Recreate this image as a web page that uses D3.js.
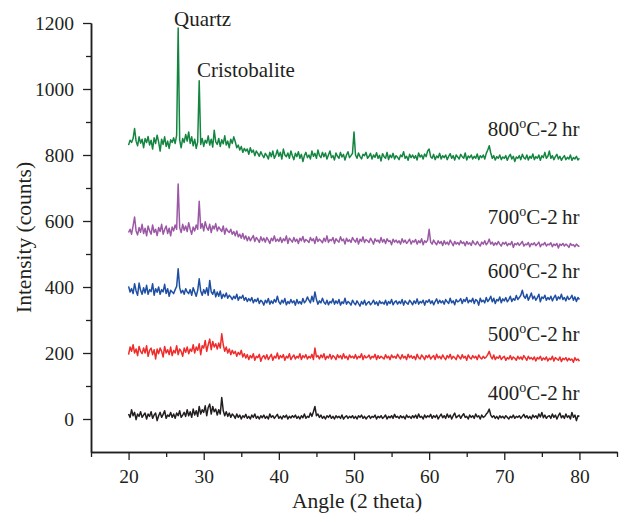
<!DOCTYPE html>
<html>
<head>
<meta charset="utf-8">
<script src="https://cdn.jsdelivr.net/npm/d3@7"></script>
<style>
    body { margin: 0; background: #fff; }
    svg text { font-family: "Liberation Serif", "DejaVu Serif", serif; fill: #231f20; }
</style>
</head>
<body>
<div id="chart"></div>
<script>
/*
    XRD patterns, 20..80 deg 2theta, step 0.2
*/

var angleStart = 20, angleStep = 0.2;

var xTicks = [20, 30, 40, 50, 60, 70, 80];
var xMinorTicks = [15, 25, 35, 45, 55, 65, 75, 85];
var yTicks = [0, 200, 400, 600, 800, 1000, 1200];
var yMinorTicks = [100, 300, 500, 700, 900, 1100];

var seriesNames = ["400", "500", "600", "700", "800"];
var seriesColors = ["#231f20", "#ee2c2c", "#1f4fa3", "#9b59a5", "#138540"];
var labelLevel = [58, 236, 427, 591, 857];

var peakNames = ["Quartz", "Cristobalite"];
var peakLabelAngles = [26.05, 29.1];
var peakLevels = [1191, 1036];

var s400 = [
    15, 5, 28, 10, 20, -2, 15, 8, 22, 5,
    12, 18, 0, 15, 8, 22, 2, 12, 18, -5,
    10, 20, 5, 14, 25, 2, 12, 8, 20, 5,
    15, 2, 18, 10, 25, 5, 12, 20, 8, 28,
    10, 22, 5, 30, 12, 25, 8, 38, 15, 28,
    20, 40, 10, 35, 45, 15, 38, 22, 30, 12,
    28, 15, 65, 25, 10, 22, 8, 18, 5, 15,
    10, 2, 15, 5, 12, 0, 10, 5, 14, 2,
    8, 0, 12, 5, 15, 2, 8, 0, 10, 4,
    12, 2, 8, 0, 15, 5, 10, 2, 8, 14,
    2, 8, 0, 10, 5, 12, 0, 8, 3, 10,
    5, 12, 2, 8, 0, 10, 4, 15, 2, 8,
    5, 18, 8, 22, 38, 10, 15, 5, 12, 2,
    8, 0, 10, 5, 12, 2, 8, 0, 10, 4,
    8, 2, 12, 0, 6, 10, 2, 8, 4, 10,
    2, 8, 0, 10, 5, 12, 2, 8, 0, 6,
    10, 2, 8, 5, 12, 0, 8, 4, 10, 2,
    6, 12, 0, 8, 4, 10, 2, 14, 5, 8,
    2, 10, 4, 8, 0, 12, 5, 8, 2, 10,
    4, 12, 2, 15, 5, 8, 0, 12, 4, 10,
    6, 14, 2, 10, 5, 12, 0, 8, 15, 4,
    10, 2, 15, 5, 12, 0, 10, 18, 4, 8,
    12, 2, 10, 16, 5, 8, 0, 12, 5, 10,
    2, 15, 6, 10, 0, 12, 5, 8, 15, 20,
    30, 12, 5, 10, 2, 8, 0, 10, 4, 8,
    2, 10, 5, 0, 8, 4, 12, 2, 8, 5,
    10, 2, 8, 14, 4, 10, 2, 8, 0, 12,
    5, 10, 2, 15, 6, 20, 4, 12, 2, 8,
    10, 2, 15, 5, 12, 0, 10, 18, 4, 10,
    2, 15, 5, 10, 0, 20, 5, 12, -5, 10,
    8
];

var s500 = [
    195, 218, 205, 225, 200, 212, 192, 220, 205, 198,
    215, 200, 222, 190, 208, 215, 195, 210, 182, 212,
    198, 215, 205, 188, 220, 200, 210, 195, 218, 192,
    208, 200, 222, 195, 212, 205, 190, 215, 202, 218,
    198, 212, 205, 225, 200, 218, 208, 228, 195, 222,
    215, 238, 205, 225, 242, 210, 235, 218, 228, 212,
    230, 215, 258, 225, 205, 218, 200, 212, 195, 208,
    198, 205, 190, 202, 195, 208, 188, 198, 185, 195,
    180, 192, 185, 198, 178, 190, 186, 196, 175, 188,
    192, 182, 195, 180, 188, 196, 178, 190, 185, 200,
    182, 192, 186, 195, 178, 190, 185, 198, 180, 188,
    194, 182, 190, 185, 198, 180, 192, 186, 195, 182,
    190, 185, 196, 180, 215, 188, 192, 182, 194, 186,
    198, 180, 190, 185, 196, 182, 192, 188, 180, 195,
    186, 192, 182, 198, 185, 190, 180, 194, 186, 190,
    184, 195, 182, 190, 186, 198, 180, 192, 185, 188,
    194, 182, 190, 186, 196, 180, 192, 184, 190, 186,
    182, 195, 185, 190, 180, 194, 186, 190, 184, 196,
    188, 182, 195, 185, 190, 180, 196, 186, 192, 184,
    190, 180, 196, 186, 182, 194, 188, 180, 192, 186,
    194, 182, 188, 192, 180, 196, 185, 190, 182, 194,
    186, 180, 192, 185, 196, 182, 190, 186, 180, 194,
    188, 182, 195, 185, 190, 178, 194, 186, 182, 192,
    185, 190, 180, 194, 186, 182, 190, 184, 188, 195,
    205, 190, 182, 194, 180, 188, 184, 192, 180, 186,
    190, 178, 186, 182, 192, 180, 188, 184, 178, 190,
    182, 188, 180, 192, 185, 178, 190, 182, 186, 180,
    188, 176, 186, 182, 190, 178, 185, 180, 188, 176,
    184, 180, 190, 176, 186, 182, 178, 188, 174, 184,
    180, 186, 176, 184, 178, 182, 172, 186, 178, 182,
    175
];

var s600 = [
    402, 385, 395, 380, 410, 388, 375, 412, 390, 378,
    398, 382, 405, 378, 392, 386, 410, 375, 395, 384,
    400, 378, 392, 385, 408, 380, 395, 372, 390, 385,
    380, 392, 402, 455, 398, 382, 390, 378, 395, 385,
    380, 392, 375, 398, 385, 372, 390, 425, 388, 375,
    392, 380, 398, 375, 420, 385, 378, 392, 370, 385,
    372, 388, 365, 378, 370, 382, 366, 375, 370, 362,
    372, 365, 378, 360, 370, 366, 375, 360, 368, 356,
    365, 358, 368, 352, 362, 356, 366, 350, 360, 355,
    345, 360, 352, 365, 348, 358, 350, 362, 354, 372,
    355, 348, 360, 352, 365, 346, 356, 350, 362, 352,
    358, 345, 362, 350, 356, 348, 365, 352, 358, 370,
    360, 352, 372, 356, 385, 362, 348, 358, 352, 366,
    354, 348, 360, 346, 356, 352, 364, 348, 358, 350,
    362, 345, 355, 350, 366, 348, 356, 352, 345, 360,
    352, 346, 358, 350, 342, 356, 348, 360, 345, 352,
    356, 346, 352, 360, 348, 355, 344, 358, 350, 354,
    348, 360, 345, 356, 350, 362, 346, 354, 358, 348,
    356, 350, 362, 345, 358, 352, 348, 360, 354, 346,
    358, 350, 364, 348, 356, 352, 360, 345, 358, 354,
    362, 350, 358, 346, 356, 364, 350, 360, 352, 358,
    348, 362, 355, 350, 366, 352, 358, 346, 362, 355,
    358, 365, 350, 362, 356, 368, 352, 360, 355, 366,
    350, 362, 358, 345, 366, 355, 360, 352, 368, 356,
    362, 372, 355, 366, 350, 362, 358, 370, 352, 364,
    358, 368, 355, 362, 372, 356, 365, 360, 374, 362,
    368, 375, 390, 372, 366, 378, 360, 370, 382, 364,
    372, 360, 368, 378, 355, 370, 365, 375, 360, 368,
    362, 372, 358, 368, 375, 360, 370, 364, 378, 362,
    368, 358, 372, 362, 366, 375, 360, 370, 356, 368,
    362
];

var s700 = [
    565, 575, 560, 585, 612, 570, 558, 580, 566, 590,
    562, 578, 555, 585, 570, 560, 588, 565, 575, 556,
    580, 568, 590, 560, 574, 585, 562, 578, 555, 582,
    570, 588, 575, 712, 580, 565, 590, 572, 585, 568,
    595, 575, 560, 582, 570, 588, 575, 660, 578, 592,
    570, 598, 580, 572, 590, 565, 585, 576, 592, 570,
    582, 575, 568, 585, 560, 578, 570, 565, 575, 560,
    568, 555, 570, 552, 560, 548, 562, 545, 555, 540,
    552, 540, 548, 556, 538, 550, 544, 535, 552, 540,
    548, 536, 550, 542, 532, 548, 540, 555, 538, 545,
    538, 550, 535, 546, 540, 555, 532, 548, 542, 536,
    550, 538, 545, 532, 548, 540, 553, 536, 544, 540,
    535, 550, 540, 546, 532, 552, 538, 545, 540, 534,
    548, 538, 555, 535, 544, 540, 550, 532, 546, 540,
    536, 552, 540, 545, 530, 548, 538, 543, 535, 550,
    542, 536, 548, 530, 545, 538, 552, 535, 544, 540,
    535, 548, 540, 530, 546, 538, 542, 534, 550, 536,
    544, 532, 546, 538, 540, 528, 545, 536, 542, 534,
    540, 530, 546, 535, 542, 532, 538, 545, 530, 540,
    536, 544, 530, 540, 534, 546, 528, 540, 535, 542,
    575, 536, 530, 542, 534, 528, 540, 532, 538, 526,
    540, 530, 536, 528, 542, 534, 525, 538, 530, 535,
    528, 540, 532, 536, 525, 538, 530, 534, 526, 540,
    532, 528, 538, 530, 524, 536, 530, 540, 528, 534,
    545, 530, 536, 526, 534, 528, 538, 530, 524, 535,
    530, 536, 525, 532, 528, 538, 520, 532, 528, 534,
    526, 532, 538, 524, 530, 528, 535, 522, 532, 528,
    534, 525, 530, 536, 522, 530, 528, 535, 524, 530,
    528, 534, 522, 530, 526, 532, 518, 530, 526, 532,
    524, 530, 526, 520, 532, 526, 528, 522, 530, 525,
    522
];

var s800 = [
    830, 845, 838, 850, 880, 842, 828, 855, 836, 848,
    822, 850, 838, 856, 830, 845, 818, 852, 835, 860,
    840, 812, 848, 832, 855, 826, 842, 820, 846, 838,
    852, 835, 860, 1185, 845, 822, 850, 838, 862, 842,
    870, 835, 855, 828, 848, 820, 840, 1025, 832, 850,
    826, 845, 836, 858, 830, 848, 824, 875, 840, 832,
    850, 826, 846, 834, 858, 830, 842, 822, 848, 835,
    855, 840, 822, 830, 815, 826, 808, 820, 812, 818,
    802, 822, 808, 815, 798, 812, 805, 796, 810, 800,
    792, 805, 798, 788, 808, 795, 812, 790, 800, 815,
    796, 808, 788, 818, 800, 795, 806, 790, 812, 798,
    786, 805, 795, 810, 790, 802, 780, 798, 808, 792,
    800, 788, 812, 796, 805, 790, 815, 798, 792, 808,
    795, 806, 788, 800, 812, 792, 798, 785, 806, 796,
    790, 808, 794, 802, 785, 800, 810, 792, 798, 805,
    870, 800, 790, 806, 795, 788, 802, 798, 808, 790,
    796, 805, 788, 800, 793, 807, 790, 799, 782, 804,
    795, 790, 808, 786, 800, 792, 805, 788, 798, 793,
    786, 800, 795, 810, 790, 796, 784, 802, 792, 800,
    790, 798, 785, 806, 794, 800, 788, 803, 795, 812,
    818, 795, 790, 802, 786, 797, 792, 805, 788, 798,
    792, 800, 786, 796, 804, 790, 798, 785, 800, 794,
    788, 802, 795, 790, 806, 785, 797, 792, 800, 788,
    796, 790, 803, 786, 798, 792, 800, 788, 805, 815,
    828, 806, 790, 798, 785, 795, 790, 800, 786, 794,
    790, 798, 784, 795, 802, 788, 796, 780, 794, 790,
    798, 786, 802, 792, 788, 800, 785, 796, 790, 803,
    786, 795, 790, 800, 784, 798, 792, 808, 790, 796,
    812, 790, 798, 786, 795, 802, 788, 796, 784, 792,
    798, 786, 793, 788, 800, 784, 792, 788, 796, 785,
    790
];

var series = [s400, s500, s600, s700, s800];

var width = 619, height = 516;
var plot = {left: 91, right: 617, top: 23, bottom: 452};
var labelFont = 21, tickFont = 19.5;

var svg = d3.select("#chart").append("svg")
    .attr("width", width)
    .attr("height", height);

var x = d3.scaleLinear().domain([15, 85]).range([plot.left, plot.right]);
var y = d3.scaleLinear().domain([-100, 1200]).range([plot.bottom, plot.top]);

// axes
var xAxis = svg.append("g")
    .attr("transform", "translate(0," + plot.bottom + ")")
    .call(d3.axisBottom(x).tickValues(xTicks).tickSize(8).tickSizeOuter(0).tickPadding(9));
var xMinor = svg.append("g")
    .attr("transform", "translate(0," + plot.bottom + ")")
    .call(d3.axisBottom(x).tickValues(xMinorTicks).tickSize(5).tickSizeOuter(0).tickFormat(""));
var yAxis = svg.append("g")
    .attr("transform", "translate(" + plot.left + ",0)")
    .call(d3.axisLeft(y).tickValues(yTicks).tickSize(8).tickSizeOuter(0).tickPadding(9).tickFormat(d3.format("d")));
var yMinor = svg.append("g")
    .attr("transform", "translate(" + plot.left + ",0)")
    .call(d3.axisLeft(y).tickValues(yMinorTicks).tickSize(5).tickSizeOuter(0).tickFormat(""));

[xAxis, xMinor, yAxis, yMinor].forEach(function(g) {
    g.select(".domain").attr("stroke", "#231f20").attr("stroke-width", 1.5);
    g.selectAll(".tick line").attr("stroke", "#231f20").attr("stroke-width", 1.3);
    g.selectAll(".tick text")
        .attr("font-family", '"Liberation Serif", serif')
        .attr("font-size", tickFont)
        .attr("fill", "#231f20");
});
yAxis.selectAll(".tick text").attr("dy", "0.34em");

// patterns
var line = d3.line()
    .x(function(d, i) { return x(angleStart + i * angleStep); })
    .y(function(d) { return y(d); });

svg.append("g").selectAll("path")
    .data(series)
    .enter().append("path")
    .attr("d", line)
    .attr("fill", "none")
    .attr("stroke", function(d, i) { return seriesColors[i]; })
    .attr("stroke-width", 1.5)
    .attr("stroke-linejoin", "round");

// series labels, 800°C-2 hr
var labels = svg.append("g").selectAll("text")
    .data(seriesNames)
    .enter().append("text")
    .attr("x", x(80))
    .attr("y", function(d, i) { return y(labelLevel[i]); })
    .attr("text-anchor", "end")
    .attr("font-size", labelFont);
labels.append("tspan").text(function(d) { return d; });
labels.append("tspan").attr("dy", -8).attr("font-size", 14).text("o");
labels.append("tspan").attr("dy", 8).text("C-2\u2009hr");

// phase names
svg.append("g").selectAll("text")
    .data(peakNames)
    .enter().append("text")
    .attr("x", function(d, i) { return x(peakLabelAngles[i]); })
    .attr("y", function(d, i) { return y(peakLevels[i]); })
    .attr("font-size", labelFont)
    .text(function(d) { return d; });

// axis titles
svg.append("text")
    .attr("x", 357)
    .attr("y", 508)
    .attr("text-anchor", "middle")
    .attr("font-size", 21.5)
    .text("Angle (2 theta)");

svg.append("text")
    .attr("transform", "translate(31," + ((plot.top + plot.bottom) / 2) + ") rotate(-90)")
    .attr("text-anchor", "middle")
    .attr("font-size", 21.5)
    .text("Intensity (counts)");
</script>
</body>
</html>
